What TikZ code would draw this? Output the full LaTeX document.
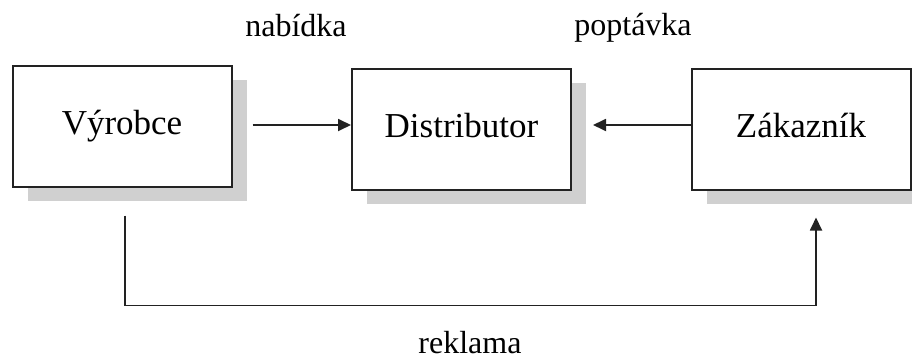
\documentclass[tikz,border=0pt]{standalone}
\usepackage{fontspec}
\setmainfont{Liberation Serif}
\usetikzlibrary{calc,shadows,arrows.meta}

\definecolor{shadowgrey}{HTML}{D0D0D0}
\definecolor{edge}{HTML}{222222}

\tikzset{
  box/.style={draw=edge, line width=2pt, fill=white,
    minimum width=219pt, minimum height=121pt, inner sep=0pt,
    text height=24pt, text depth=8pt,
    font=\fontsize{35}{40}\selectfont,
    drop shadow={shadow xshift=15pt, shadow yshift=-14pt,
                 fill=shadowgrey, opacity=1}},
  link/.style={draw=edge, line width=1.8pt,
    -{Triangle[length=13pt,width=12pt]}},
  tag/.style={anchor=base, inner sep=0pt, font=\fontsize{32}{36}\selectfont}
}

\begin{document}
\begin{tikzpicture}[x=1pt, y=-1pt]
  \useasboundingbox (0,0) rectangle (912,359);

  % the three parties
  \node[box] (vyr)  at (122,126)   {Výrobce};
  \node[box] (dist) at (461.5,129) {Distributor};
  \node[box] (zak)  at (801,129)   {Zákazník};

  % offer and demand flowing into the distributor
  \coordinate (a1) at ($(vyr.east)+(20,-1)$);
  \draw[link] (a1) -- (a1 -| dist.west);
  \draw[link] (zak.west |- a1) -- ($(dist.east |- a1)+(21,0)$);

  % advertising goes straight from producer to customer
  \coordinate (r1) at ($(vyr.south)+(3,28)$);
  \coordinate (r2) at ($(zak.south)+(15,27)$);
  \draw[link] (r1) -- ++(0,90) -| (r2);

  % labels
  \node[tag] (nab) at (296,36)  {nabídka};
  \node[tag] (pop) at (633,35)  {poptávka};
  \node[tag] (rek) at (470,353) {reklama};
\end{tikzpicture}
\end{document}
